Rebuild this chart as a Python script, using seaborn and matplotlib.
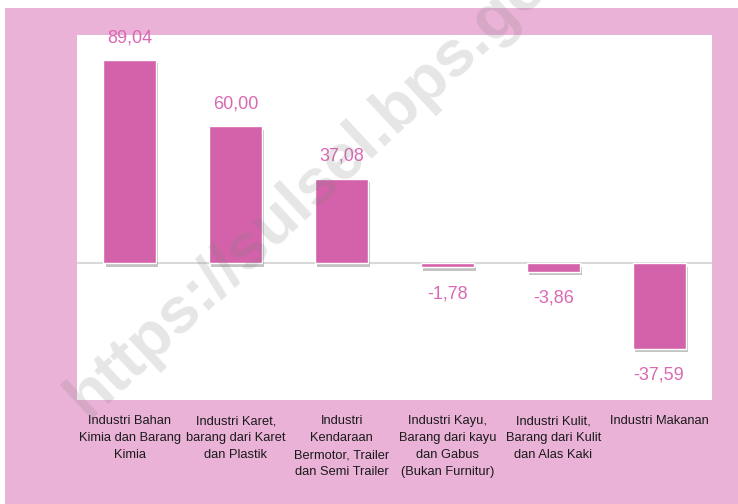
# bar chart: growth of industries (sulsel)

import matplotlib
matplotlib.use('Agg')
import matplotlib.pyplot as plt
import matplotlib.patheffects as pe
from matplotlib.patches import Rectangle
import pandas as pd
import seaborn as sns

categories = [
    'Industri Bahan\nKimia dan Barang\nKimia',
    'Industri Karet,\nbarang dari Karet\ndan Plastik',
    'Industri\nKendaraan\nBermotor, Trailer\ndan Semi Trailer',
    'Industri Kayu,\nBarang dari kayu\ndan Gabus\n(Bukan Furnitur)',
    'Industri Kulit,\nBarang dari Kulit\ndan Alas Kaki',
    'Industri Makanan',
]
values = [89.04, 60.00, 37.08, -1.78, -3.86, -37.59]
value_labels = ['89,04', '60,00', '37,08', '-1,78', '-3,86', '-37,59']

bar_col = '#D462AA'
lab_col = '#DA68B4'
bg_col = '#EBB2D8'

sns.set_style('white')
plt.rcParams['font.family'] = ['Liberation Sans', 'DejaVu Sans']

df = pd.DataFrame({'cat': categories, 'val': values})

fig = plt.figure(figsize=(7.38, 5.04), dpi=100)
fig.patch.set_facecolor(bg_col)
# white strips at top and left edge
fig.patches.append(Rectangle((0, 1 - 8 / 504), 1, 8 / 504, transform=fig.transFigure,
                             facecolor='white', edgecolor='none'))
fig.patches.append(Rectangle((0, 0), 5 / 738, 1, transform=fig.transFigure,
                             facecolor='white', edgecolor='none'))

ax = fig.add_axes([77 / 738, (504 - 400) / 504, (712 - 77) / 738, (400 - 35) / 504])
ax.set_facecolor('white')

sns.barplot(data=df, x='cat', y='val', color=bar_col, saturation=1, width=0.5, ax=ax, zorder=3)
for p in ax.patches:
    p.set_path_effects([pe.SimplePatchShadow(offset=(1.5, -2.5), shadow_rgbFace='#555555', alpha=0.35),
                        pe.Normal()])

ax.axhline(0, color='#D9D9D9', lw=1.5, zorder=2)
ax.set_xlim(-0.5, 5.5)
ax.set_ylim(-60, 100)

for i, (v, t) in enumerate(zip(values, value_labels)):
    off = 16 if v >= 0 else -19
    ax.annotate(t, (i, v), xytext=(0, off), textcoords='offset points', ha='center', va='center',
                fontsize=13, color=lab_col, zorder=5, annotation_clip=False)

ax.set_xlabel('')
ax.set_ylabel('')
ax.set_yticks([])
ax.tick_params(axis='x', length=0, pad=11, labelsize=9.3, labelcolor='#1a1a1a')
for lbl in ax.get_xticklabels():
    lbl.set_verticalalignment('top')
    lbl.set_linespacing(1.55)
sns.despine(ax=ax, left=True, bottom=True, top=True, right=True)

# watermark
fig.text(335 / 738, 1 - 165 / 504, 'https://sulsel.bps.go.id', rotation=43, ha='center', va='center',
         fontsize=47, fontweight='bold', family='Liberation Sans', color='#808080', alpha=0.2,
         rotation_mode='anchor', zorder=10)

fig.savefig('out.png', dpi=100, facecolor=fig.get_facecolor())
